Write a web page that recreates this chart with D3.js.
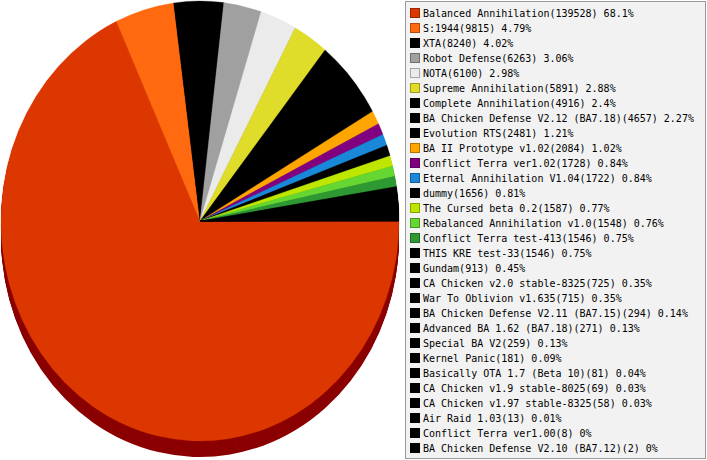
<!DOCTYPE html>
<html>
<head>
<meta charset="utf-8">
<script src="https://cdn.jsdelivr.net/npm/d3@7"></script>
<style>
  body { margin: 0; background: #fff; }
  svg { display: block; }
</style>
</head>
<body>
<svg id="chart" width="707" height="460"></svg>
<script>
// mod names, in legend order
var mods = [
    "Balanced Annihilation", "S:1944", "XTA", "Robot Defense", "NOTA",
    "Supreme Annihilation", "Complete Annihilation", "BA Chicken Defense V2.12 (BA7.18)",
    "Evolution RTS", "BA II Prototype v1.02", "Conflict Terra ver1.02",
    "Eternal Annihilation V1.04", "dummy", "The Cursed beta 0.2",
    "Rebalanced Annihilation v1.0", "Conflict Terra test-413", "THIS KRE test-33",
    "Gundam", "CA Chicken v2.0 stable-8325", "War To Oblivion v1.635",
    "BA Chicken Defense V2.11 (BA7.15)", "Advanced BA 1.62 (BA7.18)", "Special BA V2",
    "Kernel Panic", "Basically OTA 1.7 (Beta 10)", "CA Chicken v1.9 stable-8025",
    "CA Chicken v1.97 stable-8325", "Air Raid 1.03", "Conflict Terra ver1.00",
    "BA Chicken Defense V2.10 (BA7.12)"
];
// number of games per mod
var games = [
    139528, 9815, 8240, 6263, 6100,
    5891, 4916, 4657,
    2481, 2084, 1728,
    1722, 1656, 1587,
    1548, 1546, 1546,
    913, 725, 715,
    294, 271, 259,
    181, 81, 69,
    58, 13, 8,
    2
];
// share labels as printed in the legend
var shares = [
    "68.1%", "4.79%", "4.02%", "3.06%", "2.98%",
    "2.88%", "2.4%", "2.27%",
    "1.21%", "1.02%", "0.84%",
    "0.84%", "0.81%", "0.77%",
    "0.76%", "0.75%", "0.75%",
    "0.45%", "0.35%", "0.35%",
    "0.14%", "0.13%", "0.13%",
    "0.09%", "0.04%", "0.03%",
    "0.03%", "0.01%", "0%",
    "0%"
];
var colors = [
    "#dc3700", "#ff6a10", "#000000", "#a0a0a0", "#ebebeb",
    "#e0dc2a", "#000000", "#000000",
    "#000000", "#ffa500", "#800080",
    "#1a88d8", "#000000", "#bde600",
    "#66d633", "#2e9932", "#000000"
];

var conf = {
    cx: 200,
    cy: 221,
    rx: 199,
    ry: 220,
    // thickness of the pie rim
    depth: 16,
    legendX: 405.5,
    legendY: 1.5,
    legendW: 300,
    legendH: 457,
    rowHeight: 15
};

var svg = d3.select("#chart");

var data = mods.map(function(name, i){
    return {name: name, value: games[i], share: shares[i], color: colors[i] || "#000000"};
});

var pie = d3.pie()
    .sort(null)
    .value(function(d){ return d.value; })
    .startAngle(Math.PI/2)
    .endAngle(Math.PI/2 + 2*Math.PI);

var arcs = pie(data);

var arc = d3.arc()
    .innerRadius(0)
    .outerRadius(conf.ry);

var sx = conf.rx/conf.ry;

var sideColor = function(c){
    if(c === "#dc3700") return "#8b0000";
    return d3.color(c).darker(1.4).formatHex();
};

// Rim: stack darker copies of the pie downwards
var rim = svg.append("g");
var k;
for(k = conf.depth; k >= 1; k--){
    rim.append("g")
        .attr("transform", "translate(" + conf.cx + "," + (conf.cy + k) + ") scale(" + sx + ",1)")
        .selectAll("path")
        .data(arcs)
        .enter().append("path")
        .attr("d", arc)
        .attr("fill", function(d){ return sideColor(d.data.color); });
}

// Top surface
svg.append("g")
    .attr("transform", "translate(" + conf.cx + "," + conf.cy + ") scale(" + sx + ",1)")
    .selectAll("path")
    .data(arcs)
    .enter().append("path")
    .attr("d", arc)
    .attr("fill", function(d){ return d.data.color; })
    .attr("stroke", function(d){ return d.data.color; })
    .attr("stroke-width", 0.3);

// Legend
var legend = svg.append("g");
legend.append("rect")
    .attr("x", conf.legendX)
    .attr("y", conf.legendY)
    .attr("width", conf.legendW)
    .attr("height", conf.legendH)
    .attr("fill", "#f2f2f2")
    .attr("stroke", "#999");

var rowScale = d3.scaleBand()
    .domain(d3.range(data.length))
    .range([7, 7 + data.length*conf.rowHeight]);

var rows = legend.selectAll("g.row")
    .data(data)
    .enter().append("g")
    .attr("class", "row")
    .attr("transform", function(d, i){ return "translate(0," + rowScale(i) + ")"; });

rows.append("rect")
    .attr("x", 410.5)
    .attr("y", 1.5)
    .attr("width", 9)
    .attr("height", 9)
    .attr("fill", function(d){ return d.color; })
    .attr("stroke", function(d){ return d3.color(d.color).darker(1).formatHex(); });

rows.append("text")
    .attr("x", 423)
    .attr("y", 9.8)
    .style("font-family", "'DejaVu Sans Mono', monospace")
    .style("font-size", "10px")
    .attr("fill", "#000")
    .text(function(d){ return d.name + "(" + d.value + ") " + d.share; });
</script>
</body>
</html>
